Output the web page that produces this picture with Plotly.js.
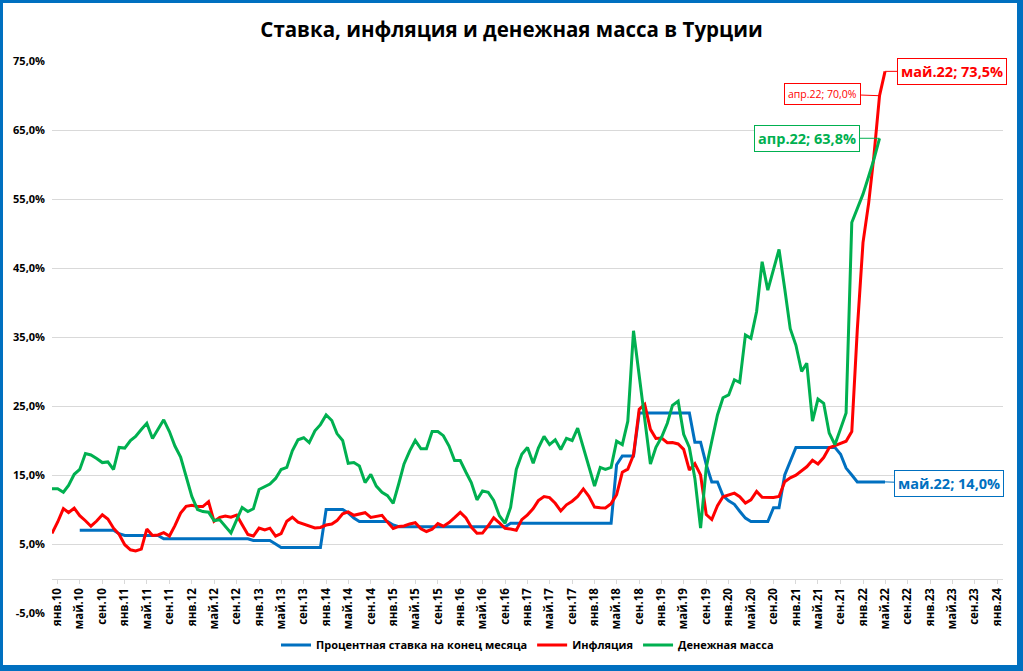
<!DOCTYPE html>
<html>
<head>
<meta charset="utf-8">
<script src="https://cdn.plot.ly/plotly-3.0.1.min.js"></script>
<style>
  body { margin: 0; background: #fff; }
  #chart { position: absolute; left: 0; top: 0; width: 1023px; height: 671px; }
  #frame { position: absolute; left: 0; top: 0; width: 1023px; height: 671px; box-sizing: border-box;
           border: solid #0070C0; border-width: 3px 6px 6px 3px; pointer-events: none; }
</style>
</head>
<body>
<div id="chart"></div>
<div id="frame"></div>
<script>
// series: monthly values, %
var inflStart = [2009, 12];
var inflation = [6.53,
  8.19, 10.13, 9.56, 10.19, 9.10, 8.37, 7.58, 8.33, 9.24, 8.62, 7.29, 6.40,
  4.90, 4.16, 3.99, 4.26, 7.17, 6.24, 6.31, 6.65, 6.15, 7.66, 9.48, 10.45,
  10.61, 10.43, 10.43, 11.14, 8.28, 8.87, 9.07, 8.88, 9.19, 7.80, 6.37, 6.16,
  7.31, 7.03, 7.29, 6.13, 6.51, 8.30, 8.88, 8.17, 7.88, 7.71, 7.32, 7.40,
  7.75, 7.89, 8.39, 9.38, 9.66, 9.16, 9.32, 9.54, 8.86, 8.96, 9.15, 8.17,
  7.24, 7.55, 7.61, 7.91, 8.09, 7.20, 6.81, 7.14, 7.95, 7.58, 8.10, 8.81,
  9.58, 8.78, 7.46, 6.57, 6.58, 7.64, 8.79, 8.05, 7.28, 7.16, 7.00, 8.53,
  9.22, 10.13, 11.29, 11.87, 11.72, 10.90, 9.79, 10.68, 11.20, 11.90, 12.98, 11.92,
  10.35, 10.26, 10.23, 10.85, 12.15, 15.39, 15.85, 17.90, 24.52, 25.24, 21.62, 20.30,
  20.35, 19.67, 19.71, 19.50, 18.71, 15.72, 16.65, 15.01, 9.26, 8.55, 10.56, 11.84,
  12.15, 12.37, 11.86, 10.94, 11.39, 12.62, 11.76, 11.77, 11.75, 11.89, 14.03, 14.60,
  14.97, 15.61, 16.19, 17.14, 16.59, 17.53, 18.95, 19.25, 19.58, 19.89, 21.31, 36.08,
  48.69, 54.44, 61.14, 69.97, 73.50];

var moneyStart = [2009, 12];
var money = [13.0,
  13.0, 12.5, 13.5, 15.1, 15.8, 18.1, 17.9, 17.4, 16.8, 16.9, 15.8, 19.0,
  18.9, 20.0, 20.6, 21.6, 22.5, 20.3, 21.7, 23.0, 21.3, 19.2, 17.6, 14.8,
  11.9, 10.0, 9.7, 9.6, 8.4, 8.5, 7.6, 6.6, 8.5, 10.3, 9.7, 10.1,
  12.9, 13.3, 13.7, 14.5, 15.8, 16.1, 18.5, 20.1, 20.4, 19.7, 21.4, 22.3,
  23.7, 22.9, 21.0, 20.0, 16.7, 16.8, 16.3, 13.9, 15.1, 13.4, 12.5, 12.0,
  10.9, 13.8, 16.6, 18.5, 20.0, 18.8, 18.8, 21.3, 21.3, 20.7, 19.2, 17.1,
  17.1, 15.4, 13.9, 11.4, 12.7, 12.5, 11.3, 9.1, 8.0, 10.3, 15.8, 18.0,
  19.0, 16.7, 18.9, 20.6, 19.4, 20.1, 18.7, 20.3, 20.0, 21.8, 18.9, 16.1,
  13.4, 16.1, 15.8, 16.1, 19.9, 19.4, 22.8, 35.9, 29.5, 23.2, 16.6, 19.0,
  20.5, 22.5, 25.1, 25.7, 20.9, 19.0, 14.5, 7.3, 16.1, 19.9, 23.7, 26.2,
  26.6, 28.8, 28.4, 35.3, 34.8, 38.7, 45.9, 41.8, 44.8, 47.7, 42.0, 36.2,
  33.8, 30.0, 31.2, 22.8, 26.0, 25.4, 21.1, 19.4, 21.7, 24.0, 51.6, 53.6,
  55.7, 58.3, 60.7, 63.8];

var rateStart = [2010, 5];
var rate = [
  7.0, 7.0, 7.0, 7.0, 7.0, 7.0, 7.0, 6.5,
  6.25, 6.25, 6.25, 6.25, 6.25, 6.25, 6.25, 5.75, 5.75, 5.75, 5.75, 5.75,
  5.75, 5.75, 5.75, 5.75, 5.75, 5.75, 5.75, 5.75, 5.75, 5.75, 5.75, 5.5,
  5.5, 5.5, 5.5, 5.0, 4.5, 4.5, 4.5, 4.5, 4.5, 4.5, 4.5, 4.5,
  10, 10, 10, 10, 9.5, 8.75, 8.25, 8.25, 8.25, 8.25, 8.25, 8.25,
  7.75, 7.5, 7.5, 7.5, 7.5, 7.5, 7.5, 7.5, 7.5, 7.5, 7.5, 7.5,
  7.5, 7.5, 7.5, 7.5, 7.5, 7.5, 7.5, 7.5, 7.5, 8.0, 8.0, 8.0,
  8.0, 8.0, 8.0, 8.0, 8.0, 8.0, 8.0, 8.0, 8.0, 8.0, 8.0, 8.0,
  8.0, 8.0, 8.0, 8.0, 16.5, 17.75, 17.75, 17.75, 24, 24, 24, 24,
  24, 24, 24, 24, 24, 24, 19.75, 19.75, 16.5, 14, 14, 12,
  11.25, 10.75, 9.75, 8.75, 8.25, 8.25, 8.25, 8.25, 10.25, 10.25, 15, 17,
  19, 19, 19, 19, 19, 19, 19, 19, 18, 16, 15, 14,
  14, 14, 14, 14, 14];

// tick labels every 4 months
var tickMonths = [[1, 'янв'], [5, 'май'], [9, 'сен']];
var tickYears = [2010, 2024];
var yTicks = [-5, 5, 15, 25, 35, 45, 55, 65, 75];

function pad(m) { return (m < 10 ? '0' : '') + m; }
function months(start, n) {
  var out = [], y = start[0], m = start[1];
  for (var i = 0; i < n; i++) {
    out.push(y + '-' + pad(m) + '-01');
    m++; if (m > 12) { m = 1; y++; }
  }
  return out;
}
function pct(v) { return v.toFixed(1).replace('.', ',') + '%'; }

var tickvals = [], ticktext = [];
for (var yr = tickYears[0]; yr <= tickYears[1]; yr++) {
  tickMonths.forEach(function (t) {
    if (yr == tickYears[1] && t[0] > 1) return;
    tickvals.push(yr + '-' + pad(t[0]) + '-01');
    ticktext.push(t[1] + '.' + String(yr).slice(2));
  });
}

var xRate = months(rateStart, rate.length);
var xInfl = months(inflStart, inflation.length);
var xMoney = months(moneyStart, money.length);

var FONT = 'Open Sans, Noto Sans, sans-serif';
var BLUE = '#0070C0', RED = '#FF0000', GREEN = '#00B050';

var traces = [
  { x: xRate, y: rate, type: 'scatter', mode: 'lines', name: 'Процентная ставка на конец месяца',
    line: { color: BLUE, width: 3 } },
  { x: xInfl, y: inflation, type: 'scatter', mode: 'lines', name: 'Инфляция',
    line: { color: RED, width: 3 } },
  { x: xMoney, y: money, type: 'scatter', mode: 'lines', name: 'Денежная масса',
    line: { color: GREEN, width: 3 } }
];

function callout(xs, ys, label, color, size, bold, ax, ay) {
  var i = ys.length - 1;
  return {
    x: xs[i], y: ys[i], xref: 'x', yref: 'y',
    text: label + '; ' + pct(ys[i]),
    font: { family: FONT, size: size, color: color, weight: bold ? 'bold' : 'normal' },
    bgcolor: '#ffffff', bordercolor: color, borderwidth: 1, borderpad: 3,
    showarrow: true, arrowhead: 0, arrowwidth: 1, arrowcolor: color,
    ax: ax, ay: ay
  };
}

var annotations = [
  callout(xInfl, inflation, 'май.22', RED, 14.5, true, 67, 0),
  callout(xInfl.slice(0, -1), inflation.slice(0, -1), 'апр.22', RED, 10.5, false, -57, -2),
  callout(xMoney, money, 'апр.22', GREEN, 14.5, true, -73, 0),
  callout(xRate, rate, 'май.22', BLUE, 14.5, true, 64, 2)
];

var layout = {
  width: 1023, height: 671,
  margin: { l: 52, r: 20, t: 61, b: 55 },
  paper_bgcolor: '#ffffff', plot_bgcolor: '#ffffff',
  font: { family: FONT, color: '#000000' },
  title: { text: 'Ставка, инфляция и денежная масса в Турции',
    font: { family: FONT, size: 20.5, color: '#000000', weight: 'bold' },
    x: 0.5, xanchor: 'center', y: 0.955, yanchor: 'middle' },
  showlegend: true,
  legend: { orientation: 'h', x: 0.5, xanchor: 'center', y: -0.058, yanchor: 'middle',
    font: { family: FONT, size: 11, color: '#000000', weight: 'bold' }, itemwidth: 30 },
  xaxis: {
    type: 'date', range: ['2009-12-01', '2024-02-02'],
    anchor: 'free', position: 0.0625,
    tickvals: tickvals, ticktext: ticktext, tickangle: -90,
    tickfont: { family: FONT, size: 11.5, color: '#000000', weight: 'bold' },
    showgrid: false, zeroline: false,
    showline: true, linecolor: '#D9D9D9', linewidth: 1,
    ticks: 'outside', ticklen: 4, tickcolor: '#D9D9D9'
  },
  yaxis: {
    range: [-5, 75], tickvals: yTicks, ticktext: yTicks.map(pct),
    tickfont: { family: FONT, size: 11, color: '#000000', weight: 'bold' },
    showgrid: true, gridcolor: '#D9D9D9', gridwidth: 1,
    zeroline: false, showline: false, ticks: '', ticklabelstandoff: 6
  },
  annotations: annotations
};

Plotly.newPlot('chart', traces, layout, { staticPlot: true });
</script>
</body>
</html>
